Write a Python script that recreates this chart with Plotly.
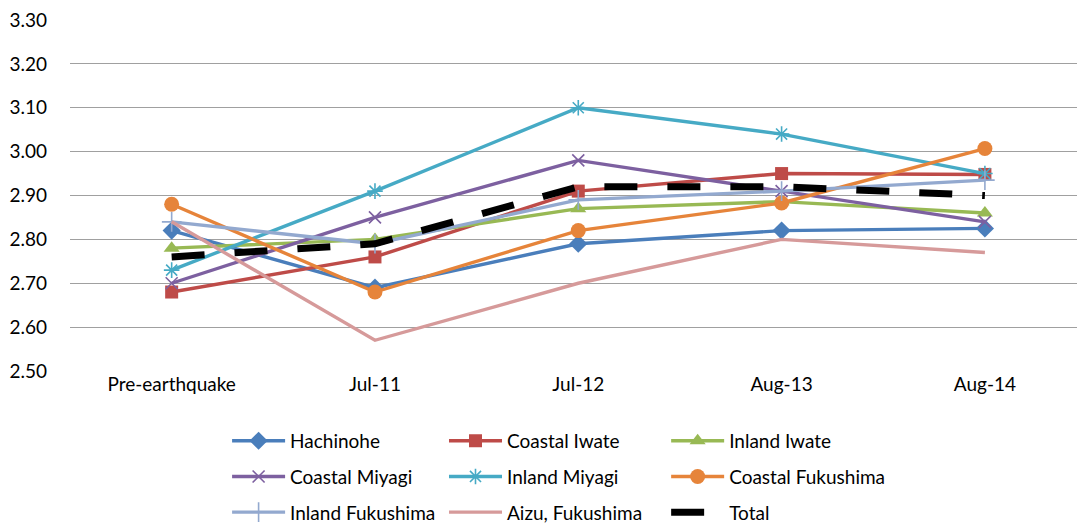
import plotly.graph_objects as go

periods = ["Pre-earthquake", "Jul-11", "Jul-12", "Aug-13", "Aug-14"]

hachinohe = [2.82, 2.69, 2.79, 2.82, 2.825]
coastal_iwate = [2.68, 2.76, 2.91, 2.95, 2.948]
inland_iwate = [2.78, 2.80, 2.87, 2.886, 2.86]
coastal_miyagi = [2.70, 2.85, 2.98, 2.91, 2.84]
inland_miyagi = [2.73, 2.91, 3.10, 3.04, 2.95]
coastal_fukushima = [2.88, 2.68, 2.82, 2.883, 3.007]
inland_fukushima = [2.84, 2.79, 2.89, 2.91, 2.935]
aizu_fukushima = [2.84, 2.57, 2.70, 2.80, 2.77]
total = [2.76, 2.79, 2.92, 2.92, 2.90]

y_ticks = [2.50, 2.60, 2.70, 2.80, 2.90, 3.00, 3.10, 3.20, 3.30]

FONT = "Lato"
FS = 19

# (name, values, colour, marker symbol, marker size, legend column)
series = [
    ("Hachinohe", hachinohe, "#4A7EBB", "diamond", 14, "legend"),
    ("Coastal Iwate", coastal_iwate, "#BE4B48", "square", 13, "legend2"),
    ("Inland Iwate", inland_iwate, "#98B954", "triangle-up", 14, "legend3"),
    ("Coastal Miyagi", coastal_miyagi, "#7D60A0", "x-thin", 12, "legend"),
    ("Inland Miyagi", inland_miyagi, "#46AAC5", "asterisk-open", 13, "legend2"),
    ("Coastal Fukushima", coastal_fukushima, "#E6843A", "circle", 15, "legend3"),
    ("Inland Fukushima", inland_fukushima, "#93A9CF", "cross-thin", 14, "legend"),
    ("Aizu, Fukushima", aizu_fukushima, "#D69A9A", None, 0, "legend2"),
]

fig = go.Figure()
for name, vals, color, sym, size, lg in series:
    if sym is None:
        mode = "lines"
        marker = None
    else:
        mode = "lines+markers"
        thin = sym.endswith("thin") or sym.startswith("asterisk")
        marker = dict(symbol=sym, size=size, color=color,
                      line=dict(color=color, width=1.6 if thin else 0))
    fig.add_trace(go.Scatter(
        x=periods, y=vals, name=name, mode=mode,
        line=dict(color=color, width=3.4),
        marker=marker, legend=lg, legendgroup=name,
    ))

fig.add_trace(go.Scatter(
    x=periods, y=total, name="Total", mode="lines",
    line=dict(color="black", width=7, dash="33px,30px"),
    legend="legend3", legendgroup="Total",
))

legend_common = dict(
    orientation="v", xanchor="left", yanchor="top", itemwidth=53,
    font=dict(family=FONT, size=FS, color="#000000"),
    bgcolor="rgba(0,0,0,0)", tracegroupgap=8,
)

legend_top = -0.145

fig.update_layout(
    width=1077, height=523,
    margin=dict(l=70, r=0, t=20, b=152, autoexpand=False),
    paper_bgcolor="white", plot_bgcolor="white",
    showlegend=True,
    font=dict(family=FONT, size=FS, color="#000000"),
    legend=dict(**legend_common, x=0.156, y=legend_top),
    legend2=dict(**legend_common, x=0.3714, y=legend_top),
    legend3=dict(**legend_common, x=0.592, y=legend_top),
    xaxis=dict(
        type="category", range=[-0.5, 4.453],
        showgrid=False, showline=False, zeroline=False,
        ticks="", tickfont=dict(family=FONT, size=FS, color="#000000"),
    ),
    yaxis=dict(
        range=[2.50, 3.30], tickvals=y_ticks, tickformat=".2f",
        showgrid=True, gridcolor="#A0A0A0", gridwidth=1.3,
        showline=False, zeroline=False, ticks="",
        tickfont=dict(family=FONT, size=FS, color="#000000"),
        ticklabelstandoff=22,
    ),
)

fig.write_html("out.html")
